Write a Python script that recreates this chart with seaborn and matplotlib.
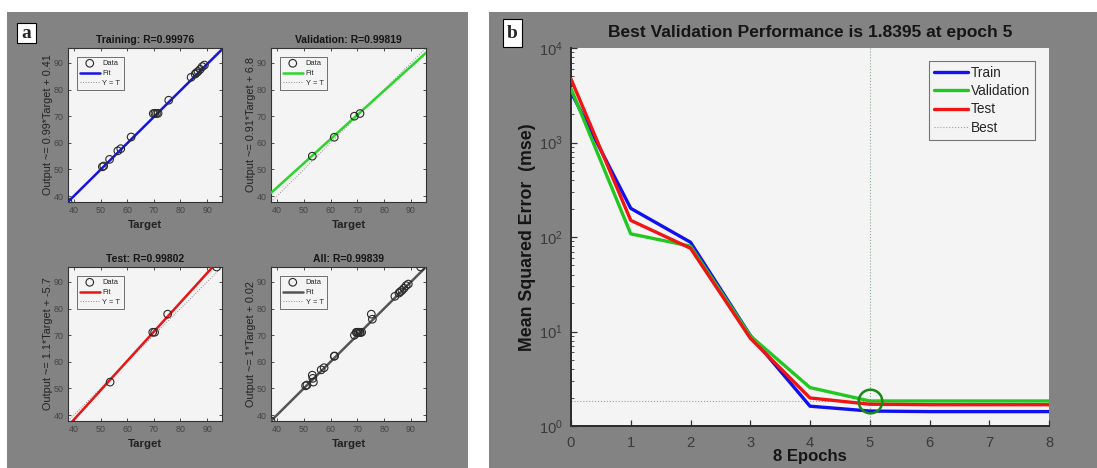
import numpy as np
import pandas as pd
import matplotlib
matplotlib.use("Agg")
import matplotlib.pyplot as plt
from matplotlib.patches import Rectangle
import seaborn as sns

# ---- regression results: network output vs. target ----
train_target = [37.8, 50.7, 51.2, 53.4, 56.5, 57.6, 61.5, 69.8, 70.4, 71.0, 71.6,
                75.6, 84.0, 85.5, 86.0, 86.6, 87.4, 88.2, 89.0]
train_output = [37.8, 51.0, 51.3, 53.8, 57.0, 57.8, 62.2, 71.0, 71.1, 71.0, 71.1,
                76.0, 84.6, 85.8, 86.3, 86.8, 87.6, 88.6, 89.2]

val_target = [53.2, 61.4, 68.9, 71.0]
val_output = [55.0, 62.1, 70.0, 71.0]

test_target = [53.6, 69.6, 70.3, 75.2, 93.6]
test_output = [52.4, 71.1, 71.1, 77.9, 95.6]

# fitted lines (slope, intercept) and correlation coefficients
fit_coef = {"Training": (0.99, 0.41), "Validation": (0.91, 6.8),
            "Test": (1.1, -5.7), "All": (1.0, 0.02)}
r_values = {"Training": "0.99976", "Validation": "0.99819",
            "Test": "0.99802", "All": "0.99839"}
fit_labels = {"Training": "0.99*Target + 0.41", "Validation": "0.91*Target + 6.8",
              "Test": "1.1*Target + -5.7", "All": "1*Target + 0.02"}

# ---- training performance per epoch ----
epochs = [0, 1, 2, 3, 4, 5, 6, 7, 8]
train_mse = [3410, 201, 88, 9.1, 1.62, 1.44, 1.42, 1.42, 1.42]
val_mse = [3710, 108, 80, 9.0, 2.55, 1.8395, 1.84, 1.84, 1.84]
test_mse = [4700, 150, 76, 8.5, 1.98, 1.70, 1.68, 1.68, 1.68]
best_epoch = 5
best_perf = 1.8395

sns.set_style("ticks")
plt.rcParams["font.family"] = ["Liberation Sans", "DejaVu Sans"]
plt.rcParams["mathtext.default"] = "regular"

W, H = 1097, 468
fig = plt.figure(figsize=(W / 100, H / 100), dpi=100)
fig.patch.set_facecolor("white")


def rect(x0, y0, x1, y1):
    return [x0 / W, 1 - y1 / H, (x1 - x0) / W, (y1 - y0) / H]


PANEL_GRAY = "#838383"
AX_FACE = "#f4f4f4"
for x0, x1 in [(7, 468), (489, 1097)]:
    fig.patches.append(Rectangle((x0 / W, 0), (x1 - x0) / W, 1 - 12 / H,
                                 transform=fig.transFigure, fc=PANEL_GRAY,
                                 ec="none", zorder=-5))

# panel letters
for (x0, y0, x1, y1), letter in [((17, 23, 36, 43), "a"), ((503, 19, 522, 47), "b")]:
    fig.patches.append(Rectangle((x0 / W, 1 - y1 / H), (x1 - x0) / W, (y1 - y0) / H,
                                 transform=fig.transFigure, fc="white",
                                 ec="black", lw=0.8, zorder=-4))
    fig.text((x0 + x1) / 2 / W, 1 - ((y0 + y1) / 2 + 1) / H, letter,
             family=["Liberation Serif", "DejaVu Serif"], weight="bold",
             fontsize=14, ha="center", va="center", zorder=2)

all_target = train_target + val_target + test_target
all_output = train_output + val_output + test_output
LO = min(min(all_target), min(all_output))
HI = max(max(all_target), max(all_output))

panels = [
    ("Training", (68, 48, 222, 202), train_target, train_output, "#1515e0"),
    ("Validation", (271, 48, 426, 202), val_target, val_output, "#2bd52b"),
    ("Test", (68, 267, 222, 421), test_target, test_output, "#e81515"),
    ("All", (271, 267, 426, 421), all_target, all_output, "#555555"),
]

for name, box, tgt, out, col in panels:
    ax = fig.add_axes(rect(*box))
    ax.set_zorder(1)
    ax.set_facecolor(AX_FACE)
    slope, icpt = fit_coef[name]
    xs = np.array([LO, HI])
    sns.scatterplot(x=tgt, y=out, ax=ax, marker="o", s=30, facecolors="none",
                    edgecolor="#2a2a2a", linewidth=0.8, label="Data", zorder=4)
    sns.lineplot(x=xs, y=slope * xs + icpt, ax=ax, color=col, lw=1.8,
                 label="Fit", zorder=3)
    sns.lineplot(x=xs, y=xs, ax=ax, color="#8a8a8a", lw=0.7, ls=":",
                 label="Y = T", zorder=2)
    ax.set_xlim(LO, HI)
    ax.set_ylim(LO, HI)
    ax.set_xticks([40, 50, 60, 70, 80, 90])
    ax.set_yticks([40, 50, 60, 70, 80, 90])
    ax.tick_params(direction="in", top=True, right=True, length=2.5, width=0.6,
                   color="#333333", labelcolor="#444444", labelsize=6.4, pad=3)
    for sp in ax.spines.values():
        sp.set_color("#333333")
        sp.set_linewidth(0.8)
    x0, y0, x1, y1 = box
    bw, bh = x1 - x0, y1 - y0
    fig.text((x0 + x1) / 2 / W, 1 - (y0 - 8) / H, f"{name}: R={r_values[name]}",
             ha="center", va="center", fontsize=7.5, weight="bold", color="#151515")
    ax.set_xlabel("Target", fontsize=8.2, weight="bold", color="#222222")
    ax.xaxis.set_label_coords(0.5, -23 / bh)
    ax.xaxis.label.set_va("center")
    ax.set_ylabel(f"Output ~= {fit_labels[name]}", fontsize=7.8, color="#222222")
    ax.yaxis.set_label_coords(-20 / bw, 0.5)
    ax.yaxis.label.set_va("center")
    leg = ax.legend(loc="upper left", bbox_to_anchor=(9 / bw, 1 - 9 / bh),
                    borderaxespad=0, fontsize=5.4, frameon=True, fancybox=False,
                    handlelength=2.6, handletextpad=0.4, labelspacing=0.35,
                    borderpad=0.4)
    leg.get_frame().set_edgecolor("#333333")
    leg.get_frame().set_linewidth(0.6)
    leg.get_frame().set_facecolor(AX_FACE)

# ---- performance panel ----
bbox = (571, 48, 1049, 426)
axb = fig.add_axes(rect(*bbox))
axb.set_zorder(1)
axb.set_facecolor(AX_FACE)
perf = pd.DataFrame({"epoch": epochs, "Train": train_mse,
                     "Validation": val_mse, "Test": test_mse})
for series, col in [("Train", "#1010f0"), ("Validation", "#22c822"), ("Test", "#f01414")]:
    sns.lineplot(data=perf, x="epoch", y=series, ax=axb, color=col, lw=2.4,
                 label=series, zorder=3)
axb.axvline(best_epoch, color="#8fa88f", lw=0.8, ls=":", zorder=2)
axb.axhline(best_perf, color="#8fa88f", lw=0.8, ls=":", zorder=2, label="Best")
axb.plot([best_epoch], [best_perf], marker="o", ms=17, mfc="none", mec="#178a17",
         mew=1.8, zorder=5)
axb.set_yscale("log")
axb.set_xlim(0, 8)
axb.set_ylim(1, 1e4)
axb.set_xticks(range(0, 9))
axb.tick_params(axis="both", which="both", direction="in", color="#333333",
                labelcolor="#3a3a3a", labelsize=10.6)
axb.tick_params(axis="x", which="major", length=4, width=0.9, pad=7)
axb.tick_params(axis="y", which="major", length=4, width=0.9, pad=6)
axb.tick_params(axis="y", which="minor", length=2, width=0.6)
for s in ["top", "right"]:
    axb.spines[s].set_visible(False)
for s in ["left", "bottom"]:
    axb.spines[s].set_color("#2a2a2a")
    axb.spines[s].set_linewidth(1.4)
bw, bh = bbox[2] - bbox[0], bbox[3] - bbox[1]
fig.text((bbox[0] + bbox[2]) / 2 / W, 1 - 33 / H,
         f"Best Validation Performance is {best_perf} at epoch {best_epoch}",
         ha="center", va="center", fontsize=12.5, weight="bold", color="#151515")
axb.set_xlabel("8 Epochs", fontsize=12, weight="bold", color="#151515")
axb.xaxis.set_label_coords(0.5, -(457 - bbox[3]) / bh)
axb.xaxis.label.set_va("center")
axb.set_ylabel("Mean Squared Error  (mse)", fontsize=12.8, weight="bold", color="#151515")
axb.yaxis.set_label_coords(-(bbox[0] - 527) / bw, 0.5)
axb.yaxis.label.set_va("center")
legb = axb.legend(loc="upper right", bbox_to_anchor=((1035 - bbox[0]) / bw, (bbox[3] - 61) / bh),
                  borderaxespad=0, fontsize=9.8, frameon=True, fancybox=False,
                  handlelength=2.5, handletextpad=0.25, labelspacing=0.32,
                  borderpad=0.35)
legb.get_frame().set_edgecolor("#555555")
legb.get_frame().set_linewidth(0.8)
legb.get_frame().set_facecolor(AX_FACE)

fig.savefig("out.png", dpi=100, facecolor="white")
